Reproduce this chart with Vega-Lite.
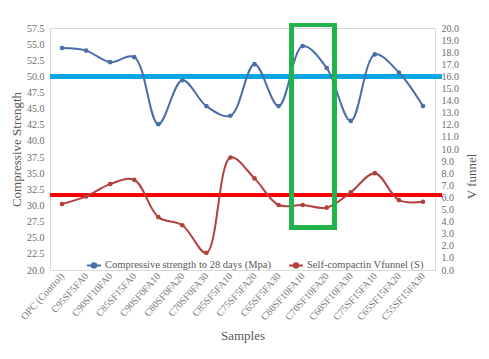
{
  "$schema": "https://vega.github.io/schema/vega-lite/v6.json",
  "autosize": "none",
  "width": 385,
  "height": 242,
  "padding": {"left": 50, "top": 28, "right": 54, "bottom": 89},
  "background": "white",
  "config": {
    "view": {"stroke": "#d9d9d9"},
    "font": "Liberation Serif",
    "axis": {"labelFont": "Liberation Serif", "titleFont": "Liberation Serif", "labelColor": "#6b6b6b", "titleColor": "#595959", "labelFontSize": 10, "titleFontSize": 13, "titleFontWeight": "normal", "gridColor": "#dde3ea", "domain": false, "ticks": false},
    "legend": {"labelFont": "Liberation Serif", "labelLimit": 0}
  },
  "data": {"values": [
    {"sample": "OPC (Control)", "strength": 54.4, "vfunnel": 5.45},
    {"sample": "C95SF5FA0", "strength": 54.0, "vfunnel": 6.08},
    {"sample": "C90SF10FA0", "strength": 52.2, "vfunnel": 7.1},
    {"sample": "C85SF15FA0", "strength": 53.0, "vfunnel": 7.45},
    {"sample": "C90SF0FA10", "strength": 42.6, "vfunnel": 4.37},
    {"sample": "C80SF0FA20", "strength": 49.4, "vfunnel": 3.7},
    {"sample": "C70SF0FA30", "strength": 45.4, "vfunnel": 1.42},
    {"sample": "C85SF5FA10", "strength": 43.9, "vfunnel": 9.3},
    {"sample": "C75SF5FA20", "strength": 51.9, "vfunnel": 7.57},
    {"sample": "C65SF5FA30", "strength": 45.4, "vfunnel": 5.37},
    {"sample": "C80SF10FA10", "strength": 54.7, "vfunnel": 5.37},
    {"sample": "C70SF10FA20", "strength": 51.3, "vfunnel": 5.15},
    {"sample": "C60SF10FA30", "strength": 43.1, "vfunnel": 6.42},
    {"sample": "C75SF15FA10", "strength": 53.4, "vfunnel": 8.0},
    {"sample": "C65SF15FA20", "strength": 50.6, "vfunnel": 5.78},
    {"sample": "C55SF15FA30", "strength": 45.4, "vfunnel": 5.64}
  ]},
  "layer": [
    {
      "encoding": {
        "x": {"field": "sample", "type": "nominal", "sort": null,
              "axis": {"title": "Samples", "labelAngle": -48, "labelPadding": 4, "titlePadding": 8, "grid": false, "labelFont": "Liberation Serif", "titleFont": "Liberation Serif", "labelColor": "#7a7a7a"}},
        "y": {"type": "quantitative", "scale": {"domain": [20, 57.5], "nice": false, "zero": false},
              "axis": {"title": "Compressive Strength", "orient": "left", "values": [20,22.5,25,27.5,30,32.5,35,37.5,40,42.5,45,47.5,50,52.5,55,57.5], "format": ".1f", "labelPadding": 6, "titlePadding": 3, "labelFont": "Liberation Serif", "titleFont": "Liberation Serif"}}
      },
      "layer": [
        {"mark": {"type": "rule", "color": "#0aa6e8", "strokeWidth": 4}, "encoding": {"y": {"datum": 50}, "x": {"value": 0}, "x2": {"value": 392}}},
        {"mark": {"type": "line", "interpolate": "catmull-rom", "strokeWidth": 2},
         "encoding": {"y": {"field": "strength"}, "color": {"datum": "Compressive strength to 28 days (Mpa)", "type": "nominal"}}},
        {"mark": {"type": "point", "filled": true, "size": 22, "opacity": 1},
         "encoding": {"y": {"field": "strength"}, "color": {"datum": "Compressive strength to 28 days (Mpa)", "type": "nominal"}}}
      ]
    },
    {
      "encoding": {
        "x": {"field": "sample", "type": "nominal", "sort": null, "axis": null},
        "y": {"type": "quantitative", "scale": {"domain": [0, 20], "nice": false, "zero": false},
              "axis": {"title": "V funnel", "orient": "right", "titleAngle": -90, "titleY": 148, "titleAlign": "center", "values": [0,1,2,3,4,5,6,7,8,9,10,11,12,13,14,15,16,17,18,19,20], "format": ".1f", "grid": false, "labelPadding": 6, "titlePadding": 20, "labelFont": "Liberation Serif", "titleFont": "Liberation Serif"}}
      },
      "layer": [
        {"mark": {"type": "rule", "color": "#ff0000", "strokeWidth": 4}, "encoding": {"y": {"datum": 6.2}, "x": {"value": 0}, "x2": {"value": 392}}},
        {"mark": {"type": "line", "interpolate": "catmull-rom", "strokeWidth": 2},
         "encoding": {"y": {"field": "vfunnel"}, "color": {"datum": "Self-compactin Vfunnel (S)", "type": "nominal"}}},
        {"mark": {"type": "point", "filled": true, "size": 22, "opacity": 1},
         "encoding": {"y": {"field": "vfunnel"}, "color": {"datum": "Self-compactin Vfunnel (S)", "type": "nominal",
           "scale": {"domain": ["Compressive strength to 28 days (Mpa)", "Self-compactin Vfunnel (S)"], "range": ["#4a6fa8", "#b2403f"]},
           "legend": {"title": null, "orient": "none", "legendX": 36, "legendY": 229, "direction": "horizontal", "labelFont": "Liberation Serif", "labelFontSize": 10.5, "labelColor": "#595959", "labelLimit": 0, "symbolType": "M-1,0H1M-0.32,0A0.32,0.32,0,1,0,0.32,0A0.32,0.32,0,1,0,-0.32,0Z", "symbolSize": 196, "symbolStrokeWidth": 2, "columnPadding": 14, "labelOffset": 3}}}}
      ]
    },
    {
      "mark": {"type": "rect", "fill": null, "filled": false, "stroke": "#1fb34a", "strokeWidth": 4, "clip": false},
      "encoding": {
        "x": {"datum": 10.05, "type": "quantitative", "scale": {"domain": [0, 16], "nice": false, "zero": false}, "axis": null},
        "x2": {"datum": 11.82},
        "y": {"datum": 3.5, "type": "quantitative", "scale": {"domain": [0, 20], "nice": false, "zero": false}, "axis": null},
        "y2": {"datum": 20.25}
      }
    }
  ],
  "resolve": {"scale": {"y": "independent", "x": "independent"}}
}
